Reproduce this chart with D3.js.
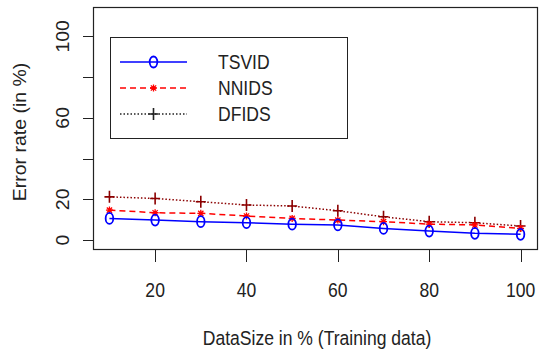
<!DOCTYPE html>
<meta charset="utf-8">
<style>
    body { margin: 0; background: #fff; }
    text { font-family: "Liberation Sans", Arial, sans-serif; fill: #222; }
</style>
<script src="https://d3js.org/d3.v7.min.js"></script>
<div id="chart"></div>
<script>
    // values (error rate in %)
    var dataSize = [10, 20, 30, 40, 50, 60, 70, 80, 90, 100];
    var tsvid = [10.6, 9.8, 9.0, 8.5, 7.8, 7.4, 5.7, 4.4, 3.3, 2.8];
    var nnids = [14.7, 13.4, 13.1, 11.8, 10.6, 9.8, 9.0, 7.8, 7.4, 5.7];
    var dfids = [21.2, 20.4, 18.8, 17.2, 16.7, 14.4, 11.4, 9.0, 8.5, 6.9];
    var xTicks = [20, 40, 60, 80, 100];
    var yTicks = [0, 20, 40, 60, 80, 100];
    var yLabels = [0, 20, 60, 100];
    var seriesNames = ["TSVID", "NNIDS", "DFIDS"];

    var width = 539, height = 352;
    var fs = 19.5, sx = 0.9;   // text is a bit squashed sideways in the original

    var svg = d3.select("#chart").append("svg")
        .attr("width", width)
        .attr("height", height);

    // plot box
    var box = {left: 93, right: 537, top: 7, bottom: 249};

    var x = d3.scaleLinear().domain([6.4, 103.6]).range([box.left, box.right]);
    var y = d3.scaleLinear().domain([-4.4, 114.4]).range([box.bottom, box.top]);

    svg.append("rect")
        .attr("x", box.left + 0.5).attr("y", box.top + 0.5)
        .attr("width", box.right - box.left).attr("height", box.bottom - box.top)
        .attr("fill", "none").attr("stroke", "#222").attr("stroke-width", 1.2);

    // x axis ticks
    svg.selectAll(".xt").data(xTicks).enter().append("line")
        .attr("x1", function(d) { return Math.round(x(d)) + 0.5; })
        .attr("x2", function(d) { return Math.round(x(d)) + 0.5; })
        .attr("y1", box.bottom).attr("y2", box.bottom + 13)
        .attr("stroke", "#222");
    svg.selectAll(".xl").data(xTicks).enter().append("text")
        .attr("transform", function(d) { return "translate(" + x(d) + ",297) scale(" + sx + ",1)"; })
        .attr("text-anchor", "middle")
        .style("font-size", fs + "px")
        .text(function(d) { return d; });

    // y axis ticks
    svg.selectAll(".yt").data(yTicks).enter().append("line")
        .attr("x1", box.left - 10).attr("x2", box.left)
        .attr("y1", function(d) { return Math.round(y(d)) + 0.5; })
        .attr("y2", function(d) { return Math.round(y(d)) + 0.5; })
        .attr("stroke", "#222");
    svg.selectAll(".yl").data(yLabels).enter().append("text")
        .attr("transform", function(d) { return "translate(69," + y(d) + ") rotate(-90) scale(1," + sx + ")"; })
        .attr("text-anchor", "middle")
        .style("font-size", fs + "px")
        .text(function(d) { return d; });

    // axis titles
    svg.append("text")
        .attr("transform", "translate(" + ((box.left + box.right) / 2 + 2) + ",345) scale(" + sx + ",1)")
        .attr("text-anchor", "middle")
        .style("font-size", fs + "px")
        .text("DataSize in % (Training data)");
    svg.append("text")
        .attr("transform", "translate(26," + ((box.top + box.bottom) / 2 + 4) + ") rotate(-90) scale(1," + sx + ")")
        .attr("text-anchor", "middle")
        .style("font-size", fs + "px")
        .text("Error rate (in %)");

    var line = d3.line()
        .x(function(d, i) { return x(dataSize[i]); })
        .y(function(d) { return y(d); });

    // markers
    function drawO(g, cx, cy, col) {
        g.append("ellipse").attr("cx", cx).attr("cy", cy).attr("rx", 3.8).attr("ry", 5.5)
            .attr("fill", "none").attr("stroke", col).attr("stroke-width", 1.8);
    }
    function drawStar(g, cx, cy, col) {
        var r = 3.5;
        g.append("path")
            .attr("d", "M" + (cx - r) + "," + cy + "H" + (cx + r) +
                "M" + cx + "," + (cy - r) + "V" + (cy + r) +
                "M" + (cx - r * 0.75) + "," + (cy - r * 0.75) + "L" + (cx + r * 0.75) + "," + (cy + r * 0.75) +
                "M" + (cx - r * 0.75) + "," + (cy + r * 0.75) + "L" + (cx + r * 0.75) + "," + (cy - r * 0.75))
            .attr("stroke", col).attr("stroke-width", 1.3).attr("fill", "none");
    }
    function drawPlus(g, cx, cy, col) {
        g.append("path")
            .attr("d", "M" + (cx - 5) + "," + cy + "H" + (cx + 5) + "M" + cx + "," + (cy - 6) + "V" + (cy + 6))
            .attr("stroke", col).attr("stroke-width", 1.6).attr("fill", "none");
    }

    var series = [
        {vals: dfids, col: "#8b0000", dash: "1.5,2", mark: drawPlus},
        {vals: nnids, col: "#ff0000", dash: "6,4", mark: drawStar},
        {vals: tsvid, col: "#0000ff", dash: null, mark: drawO}
    ];

    series.forEach(function(s) {
        var g = svg.append("g");
        g.append("path")
            .datum(s.vals)
            .attr("d", line)
            .attr("fill", "none")
            .attr("stroke", s.col)
            .attr("stroke-width", 1.5)
            .attr("stroke-dasharray", s.dash);
        s.vals.forEach(function(v, i) {
            s.mark(g, x(dataSize[i]), y(v), s.col);
        });
    });

    // legend
    var leg = svg.append("g");
    leg.append("rect")
        .attr("x", 110.5).attr("y", 37.5).attr("width", 237).attr("height", 101)
        .attr("fill", "#fff").attr("stroke", "#222").attr("stroke-width", 1);
    var legRows = [
        {name: seriesNames[0], col: "#0000ff", mcol: "#0000ff", dash: null, mark: drawO, y: 62},
        {name: seriesNames[1], col: "#ff0000", mcol: "#ff0000", dash: "6,4", mark: drawStar, y: 88},
        {name: seriesNames[2], col: "#222", mcol: "#222", dash: "1.5,2", mark: drawPlus, y: 114}
    ];
    legRows.forEach(function(r) {
        leg.append("line")
            .attr("x1", 120).attr("x2", 187).attr("y1", r.y).attr("y2", r.y)
            .attr("stroke", r.col).attr("stroke-width", 1.5)
            .attr("stroke-dasharray", r.dash);
        r.mark(leg, 153.5, r.y, r.mcol);
        leg.append("text")
            .attr("transform", "translate(218," + (r.y + 7) + ") scale(" + sx + ",1)")
            .style("font-size", fs + "px")
            .text(r.name);
    });
</script>
